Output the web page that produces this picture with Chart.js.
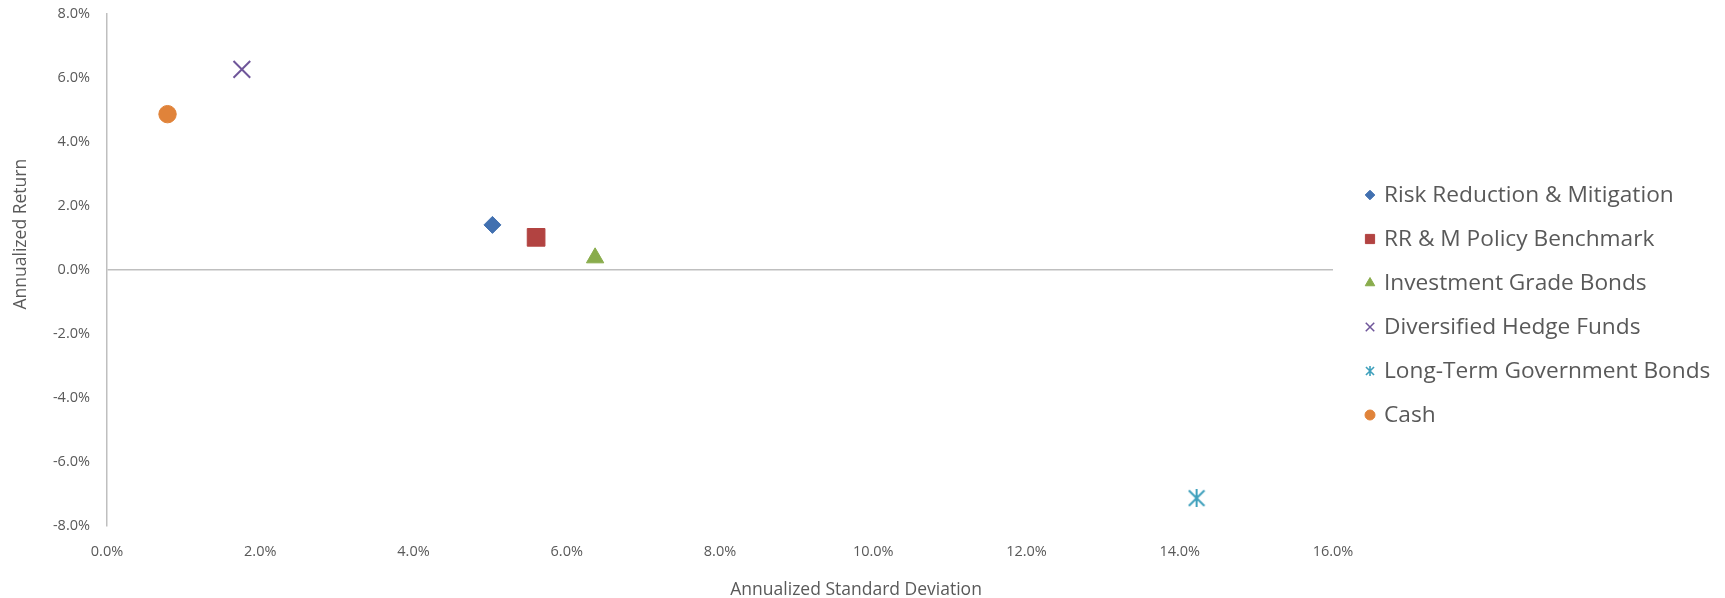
<!DOCTYPE html>
<html>
<head>
<meta charset="utf-8">
<title>Risk / Return</title>
<script src="https://cdn.jsdelivr.net/npm/chart.js@4.4.1/dist/chart.umd.min.js"></script>
<style>
  html, body { margin: 0; padding: 0; background: #ffffff; }
  #wrap { width: 1725px; height: 598px; position: relative; }
</style>
</head>
<body>
<div id="wrap"><canvas id="chart" width="1725" height="598"></canvas></div>
<script>
// ---- data ----
const seriesNames = [
  'Risk Reduction & Mitigation',
  'RR & M Policy Benchmark',
  'Investment Grade Bonds',
  'Diversified Hedge Funds',
  'Long-Term Government Bonds',
  'Cash'
];
const stdDevPct = [5.03, 5.60, 6.37, 1.76, 14.22, 0.79];   // annualized standard deviation, %
const returnPct = [1.41, 1.02, 0.38, 6.27, -7.13, 4.87];   // annualized return, %
const xAxisTitle = 'Annualized Standard Deviation';
const yAxisTitle = 'Annualized Return';
const xRange = [0, 16];
const yRange = [-8, 8];
const tickStep = 2;

// ---- styles ----
const seriesColors = ['#4170B0', '#B24341', '#89AC4C', '#6F569A', '#3FA0BC', '#E0833A'];
const textColor = '#595959';
const axisColor = '#BFBFBF';
const fontFamily = '"Open Sans", "Noto Sans", sans-serif';

// asterisk marker: an X crossed by a vertical stroke
function makeAsterisk(size, lw, color) {
  const c = document.createElement('canvas');
  c.width = size; c.height = size;
  const g = c.getContext('2d');
  g.strokeStyle = color;
  g.lineWidth = lw;
  const p = lw * 0.6, h = size / 2;
  g.beginPath();
  g.moveTo(p, p); g.lineTo(size - p, size - p);
  g.moveTo(size - p, p); g.lineTo(p, size - p);
  g.moveTo(h, 0); g.lineTo(h, size);
  g.stroke();
  return c;
}

const plotMarkers = [
  { style: 'rectRot',  radius: 8.5,  borderWidth: 1 },
  { style: 'rect',     radius: 12.5, borderWidth: 1 },
  { style: 'triangle', radius: 10,   borderWidth: 1 },
  { style: 'crossRot', radius: 11.8, borderWidth: 2 },
  { style: makeAsterisk(18, 2, seriesColors[4]), radius: 9, borderWidth: 0 },
  { style: 'circle',   radius: 8.7,  borderWidth: 1 }
];
const legendMarkers = [
  { style: 'rectRot',  radius: 4.8, borderWidth: 1 },
  { style: 'rect',     radius: 6.5, borderWidth: 1 },
  { style: 'triangle', radius: 5.5, borderWidth: 1 },
  { style: 'crossRot', radius: 6,   borderWidth: 1.5 },
  { style: makeAsterisk(10, 1.6, seriesColors[4]), radius: 5, borderWidth: 0 },
  { style: 'circle',   radius: 5,   borderWidth: 1 }
];

const datasets = seriesNames.map((name, i) => ({
  label: name,
  data: [{ x: stdDevPct[i], y: returnPct[i] }],
  backgroundColor: seriesColors[i],
  borderColor: seriesColors[i],
  pointStyle: plotMarkers[i].style,
  pointRadius: plotMarkers[i].radius,
  pointHoverRadius: plotMarkers[i].radius,
  pointBorderWidth: plotMarkers[i].borderWidth,
  clip: false
}));

// legend drawn in the right-hand margin
const sideLegend = {
  id: 'sideLegend',
  afterDraw(chart) {
    const { ctx, chartArea } = chart;
    const helpers = Chart.helpers;
    const mx = chartArea.right + 37;
    const tx = chartArea.right + 51;
    const y0 = chartArea.top + 181;
    const gap = 44;
    ctx.save();
    ctx.font = '22.7px ' + fontFamily;
    ctx.textBaseline = 'middle';
    ctx.textAlign = 'left';
    chart.data.datasets.forEach((ds, i) => {
      const y = y0 + i * gap;
      const m = legendMarkers[i];
      ctx.fillStyle = ds.backgroundColor;
      ctx.strokeStyle = ds.borderColor;
      ctx.lineWidth = m.borderWidth;
      helpers.drawPoint(ctx, { pointStyle: m.style, radius: m.radius, rotation: 0, borderWidth: m.borderWidth }, mx, y);
      ctx.fillStyle = textColor;
      ctx.fillText(ds.label, tx, y + 1);
    });
    ctx.restore();
  }
};

// axis titles
const axisTitles = {
  id: 'axisTitles',
  afterDraw(chart) {
    const { ctx, chartArea: a } = chart;
    ctx.save();
    ctx.font = '17.5px ' + fontFamily;
    ctx.fillStyle = textColor;
    ctx.textAlign = 'center';
    ctx.textBaseline = 'middle';
    ctx.fillText(xAxisTitle, a.left + 0.611 * (a.right - a.left), a.bottom + 64);
    ctx.translate(21, a.top + 0.43 * (a.bottom - a.top));
    ctx.rotate(-Math.PI / 2);
    ctx.fillText(yAxisTitle, 0, 0);
    ctx.restore();
  }
};

const pct = v => Number(v).toFixed(1) + '%';

new Chart(document.getElementById('chart'), {
  type: 'scatter',
  data: { datasets },
  options: {
    responsive: false,
    animation: false,
    devicePixelRatio: 1,
    layout: { padding: { left: 0, top: 14, right: 392, bottom: 0 } },
    plugins: {
      legend: { display: false },
      tooltip: { enabled: false }
    },
    scales: {
      x: {
        type: 'linear',
        min: xRange[0], max: xRange[1],
        afterFit(s) { s.height = 72; },
        grid: { display: false, drawTicks: false },
        border: { display: false },
        ticks: {
          stepSize: tickStep, autoSkip: false, maxRotation: 0, padding: 17,
          color: textColor, font: { family: fontFamily, size: 14.5 },
          callback: pct
        }
      },
      y: {
        type: 'linear',
        min: yRange[0], max: yRange[1],
        afterFit(s) { s.width = 107; s.paddingTop = 0; s.paddingBottom = 0; },
        grid: {
          drawTicks: false,
          lineWidth: 1.5,
          color: c => (c.tick && c.tick.value === 0) ? axisColor : 'rgba(0,0,0,0)'
        },
        border: { display: true, color: axisColor, width: 1.5 },
        ticks: {
          stepSize: tickStep, autoSkip: false, padding: 17,
          color: textColor, font: { family: fontFamily, size: 14.5 },
          callback: pct
        }
      }
    }
  },
  plugins: [sideLegend, axisTitles]
});
</script>
</body>
</html>
